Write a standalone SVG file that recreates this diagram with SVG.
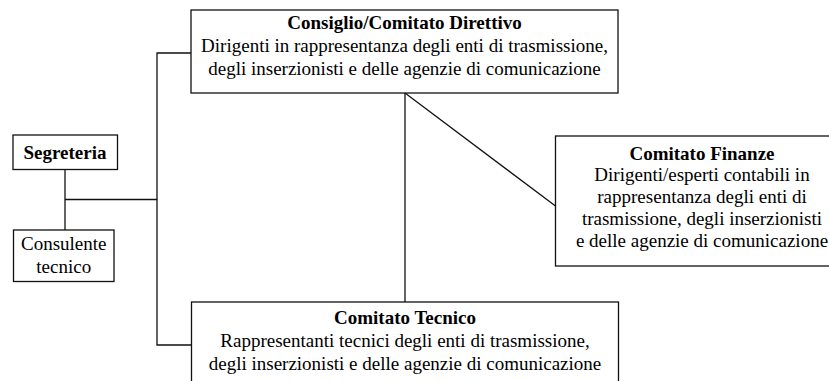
<svg xmlns="http://www.w3.org/2000/svg" width="829" height="381" viewBox="0 0 829 381">
<style>
.box{fill:#fff;stroke:#111;stroke-width:1.3}
.ln{fill:none;stroke:#111;stroke-width:1.3}
text{font-family:"Liberation Serif","Times New Roman",serif;font-size:19px;fill:#000;text-anchor:middle}
.b{font-weight:bold}
</style>
<rect width="829" height="381" fill="#fff"/>
<g id="connectors">
<polyline class="ln" points="65,169.5 65,230"/>
<polyline class="ln" points="65,199.5 157,199.5"/>
<polyline class="ln" points="191,53 157,53 157,345 191.5,345"/>
<polyline class="ln" points="405,93 405,302"/>
<polyline class="ln" points="405,93 555.5,206"/>
</g>
<g id="consiglio">
<rect class="box" x="191" y="10" width="427" height="83"/>
<text class="b" x="404.5" y="29">Consiglio/Comitato Direttivo</text>
<text x="404.5" y="52">Dirigenti in rappresentanza degli enti di trasmissione,</text>
<text x="404.5" y="75">degli inserzionisti e delle agenzie di comunicazione</text>
</g>
<g id="segreteria">
<rect class="box" x="13" y="135" width="104.5" height="34.5"/>
<text class="b" x="65" y="158.5">Segreteria</text>
</g>
<g id="consulente">
<rect class="box" x="13.5" y="230" width="100.5" height="51.5"/>
<text x="63.75" y="250">Consulente</text>
<text x="63.75" y="273">tecnico</text>
</g>
<g id="finanze">
<rect class="box" x="555.5" y="136" width="293" height="130"/>
<text class="b" x="702" y="160">Comitato Finanze</text>
<text x="702" y="181">Dirigenti/esperti contabili in</text>
<text x="702" y="203">rappresentanza degli enti di</text>
<text x="702" y="225">trasmissione, degli inserzionisti</text>
<text x="702" y="247">e delle agenzie di comunicazione</text>
</g>
<g id="tecnico">
<rect class="box" x="191.5" y="302" width="427" height="100"/>
<text class="b" x="405" y="324">Comitato Tecnico</text>
<text x="405" y="347">Rappresentanti tecnici degli enti di trasmissione,</text>
<text x="405" y="370">degli inserzionisti e delle agenzie di comunicazione</text>
</g>
</svg>
